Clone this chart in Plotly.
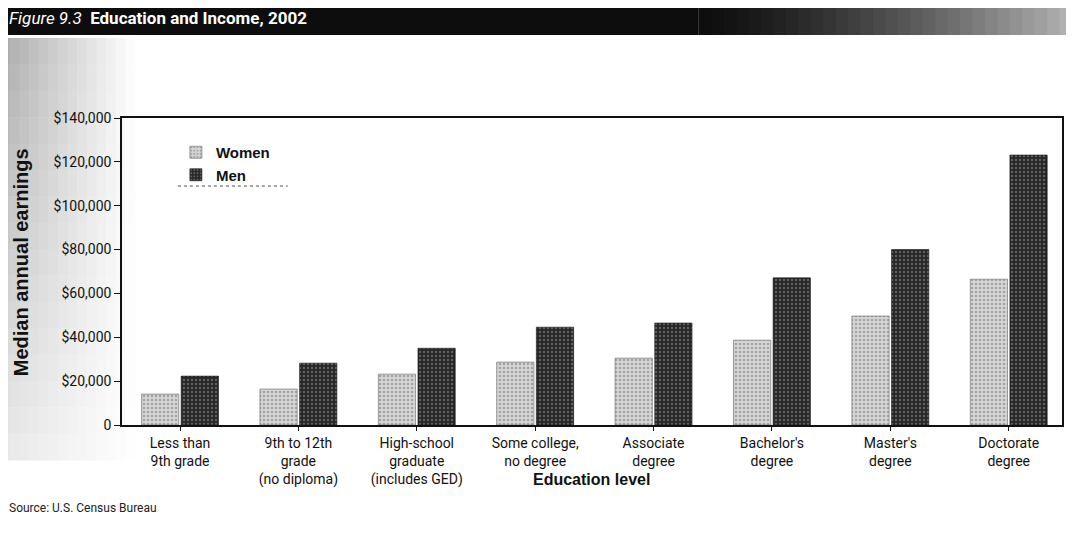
import plotly.graph_objects as go

categories = ["Less than<br>9th grade", "9th to 12th<br>grade<br>(no diploma)",
              "High-school<br>graduate<br>(includes GED)", "Some college,<br>no degree",
              "Associate<br>degree", "Bachelor's<br>degree", "Master's<br>degree", "Doctorate<br>degree"]
women = [14100, 16400, 23200, 28700, 30500, 38700, 49700, 66500]
men = [22300, 28200, 35000, 44600, 46500, 67100, 80000, 123100]
y_ticks = [0, 20000, 40000, 60000, 80000, 100000, 120000, 140000]
y_tick_labels = ["0", "$20,000", "$40,000", "$60,000", "$80,000", "$100,000", "$120,000", "$140,000"]

FONT = "Roboto, sans-serif"
BOLD = "Liberation Sans, Arial, sans-serif"

# page has an 8px body margin; the figure is drawn at (8, 8)
OFF = 8
SW, SH = 1074, 543            # screen size
W, H = SW - 2 * OFF, SH - 2 * OFF
L, R, T, B = 122, 1064, 118, 425   # plot area in screen pixels

def px_x(p):
    return (p - L) / (R - L)

def px_y(p):
    return (B - p) / (B - T)

fig = go.Figure()
fig.add_trace(go.Bar(
    name="<b>Women</b>", x=categories, y=women,
    marker=dict(color="#c4c4c4", line=dict(color="#666", width=0.6),
                pattern=dict(shape=".", fgcolor="#707070", bgcolor="#d6d6d6", size=4, solidity=0.35)),
))
fig.add_trace(go.Bar(
    name="<b>Men</b>", x=categories, y=men,
    marker=dict(color="#333333", line=dict(color="#111", width=0.6),
                pattern=dict(shape=".", fgcolor="#9a9a9a", bgcolor="#262626", size=4, solidity=0.3)),
))

shapes = []
# title banner: black fading to grey on the right
shapes.append(dict(type="rect", xref="paper", yref="paper", x0=px_x(0), x1=px_x(700),
                   y0=px_y(35), y1=px_y(0), fillcolor="#0d0d0d", line=dict(width=0), layer="below"))
n = 30
for i in range(n):
    x0 = 700 + (SW - 700) * i / n
    x1 = 700 + (SW - 700) * (i + 1) / n + 1
    f = ((i + 1) / n) ** 1.4
    g = int(0x0d + (0xb0 - 0x0d) * f)
    shapes.append(dict(type="rect", xref="paper", yref="paper", x0=px_x(x0), x1=px_x(x1),
                       y0=px_y(35), y1=px_y(0), fillcolor=f"rgb({g},{g},{g})",
                       line=dict(width=0), layer="below"))
# stippled grey area on the left margin (2D fade)
nx, ny = 14, 16
x_end, y_start, y_end = 135, 38, 460
for i in range(nx):
    for j in range(ny):
        x0 = x_end * i / nx
        x1 = x_end * (i + 1) / nx + 0.5
        y0 = y_start + (y_end - y_start) * j / ny
        y1 = y_start + (y_end - y_start) * (j + 1) / ny + 0.5
        fx = 1 - (i + 0.5) / nx
        fy = 1 - (j + 0.5) / ny
        inten = max(0.0, fx * (0.25 + 0.75 * fy))
        g = int(255 - 85 * inten)
        shapes.append(dict(type="rect", xref="paper", yref="paper", x0=px_x(x0), x1=px_x(x1),
                           y0=px_y(y1), y1=px_y(y0), fillcolor=f"rgb({g},{g},{g})",
                           line=dict(width=0), layer="below"))
# legend underline
shapes.append(dict(type="line", xref="paper", yref="paper", x0=px_x(178), x1=px_x(288),
                   y0=px_y(186), y1=px_y(186), line=dict(color="#888", width=1.5, dash="dot")))

annotations = [
    dict(text="<i>Figure 9.3</i>  <b>Education and Income, 2002</b>", xref="paper", yref="paper",
         x=px_x(7), y=px_y(18), xanchor="left", yanchor="middle", showarrow=False,
         font=dict(family=FONT, size=17, color="white")),
    dict(text="Source: U.S. Census Bureau", xref="paper", yref="paper",
         x=px_x(7), y=px_y(508), xanchor="left", yanchor="middle", showarrow=False,
         font=dict(family=FONT, size=12, color="#222")),
    dict(text="<b>Education level</b>", xref="paper", yref="paper",
         x=px_x(592), y=px_y(479), xanchor="center", yanchor="middle", showarrow=False,
         font=dict(family=BOLD, size=16, color="#111")),
    dict(text="<b>Median annual earnings</b>", xref="paper", yref="paper",
         x=px_x(21), y=px_y(262), xanchor="center", yanchor="middle", showarrow=False,
         textangle=-90, font=dict(family=BOLD, size=20, color="#111")),
]

fig.update_layout(
    width=W, height=H,
    margin=dict(l=L - OFF, r=(SW - OFF) - R, t=T - OFF, b=(SH - OFF) - B, pad=0),
    paper_bgcolor="white", plot_bgcolor="white",
    barmode="group", bargap=0.33, bargroupgap=0.06,
    font=dict(family=FONT, size=13, color="#111"),
    showlegend=True,
    legend=dict(x=px_x(176), y=px_y(136), xanchor="left", yanchor="top",
                bgcolor="rgba(0,0,0,0)", font=dict(family=BOLD, size=15, color="#111"),
                itemwidth=30, tracegroupgap=0, traceorder="normal"),
    shapes=shapes, annotations=annotations,
    xaxis=dict(range=[-0.49, 7.45], showline=True, linecolor="#111", linewidth=1.5, mirror=True,
               ticks="outside", ticklen=4, tickcolor="#111", showgrid=False,
               tickfont=dict(family=FONT, size=14, color="#111")),
    yaxis=dict(range=[0, 140000], tickvals=y_ticks, ticktext=y_tick_labels,
               showline=True, linecolor="#111", linewidth=1.5, mirror=True,
               ticks="outside", ticklen=6, tickcolor="#111", showgrid=False, zeroline=False,
               tickfont=dict(family=FONT, size=14, color="#111")),
)

fig.write_html("out.html")
